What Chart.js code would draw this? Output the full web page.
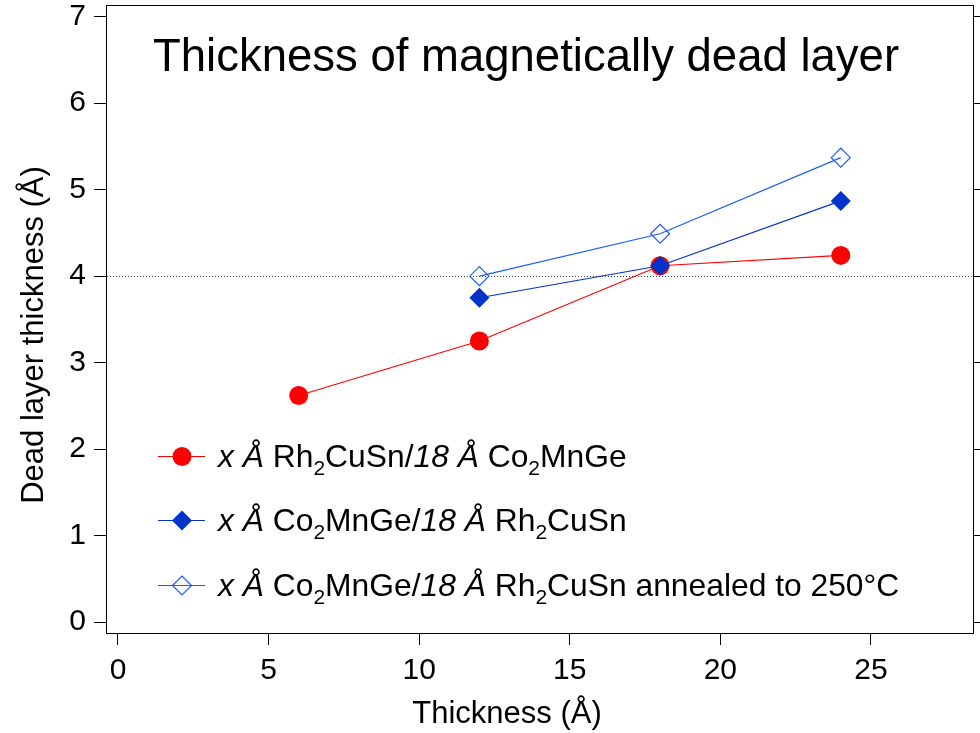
<!DOCTYPE html>
<html>
<head>
<meta charset="utf-8">
<script src="https://cdn.jsdelivr.net/npm/chart.js@4.4.1/dist/chart.umd.min.js"></script>
<style>
  html, body { margin: 0; padding: 0; background: #fff; }
</style>
</head>
<body>
<canvas id="deadLayerChart" width="980" height="733"></canvas>
<script>
const FONT = '"Liberation Sans", Arial, Helvetica, sans-serif';

// Values
const rhCuSnThickness = [6, 12, 18, 24];
const rhCuSnDeadLayer = [2.62, 3.25, 4.12, 4.24];
const coMnGeThickness = [12, 18, 24];
const coMnGeDeadLayer = [3.75, 4.12, 4.87];
const annealedThickness = [12, 18, 24];
const annealedDeadLayer = [4.0, 4.49, 5.37];
const referenceLevel = 4;

const xTicks = [0, 5, 10, 15, 20, 25];
const yTicks = [0, 1, 2, 3, 4, 5, 6, 7];

const chartTitle = 'Thickness of magnetically dead layer';
const xTitle = 'Thickness (Å)';
const yTitle = 'Dead layer thickness (Å)';

// Legend labels as [text, style]: i = italic, n = normal, s = subscript
const legendRh = [['x Å', 'i'], [' Rh', 'n'], ['2', 's'], ['CuSn/', 'n'], ['18 Å', 'i'], [' Co', 'n'], ['2', 's'], ['MnGe', 'n']];
const legendCo = [['x Å', 'i'], [' Co', 'n'], ['2', 's'], ['MnGe/', 'n'], ['18 Å', 'i'], [' Rh', 'n'], ['2', 's'], ['CuSn', 'n']];
const legendAnnealed = [['x Å', 'i'], [' Co', 'n'], ['2', 's'], ['MnGe/', 'n'], ['18 Å', 'i'], [' Rh', 'n'], ['2', 's'], ['CuSn annealed to 250°C', 'n']];

const RED = '#ff0000';
const DARK_BLUE = '#0033cc';
const LIGHT_BLUE = '#1a5cff';

function toPoints(xs, ys) {
    return xs.map((x, i) => ({ x: x, y: ys[i] }));
}

function setTicks(values) {
    return scale => { scale.ticks = values.map(v => ({ value: v })); };
}

// Frame, reference line, titles and the rich-text legend
const decorPlugin = {
    id: 'decor',
    beforeDatasetsDraw(chart) {
        const { ctx, chartArea } = chart;
        const y = Math.round(chart.scales.y.getPixelForValue(referenceLevel)) + 0.5;
        ctx.save();
        ctx.strokeStyle = '#444';
        ctx.lineWidth = 1;
        ctx.setLineDash([1, 2]);
        ctx.beginPath();
        ctx.moveTo(chartArea.left, y);
        ctx.lineTo(chartArea.right, y);
        ctx.stroke();
        ctx.restore();
    },
    afterDraw(chart) {
        const { ctx, chartArea } = chart;
        ctx.save();
        // plot frame
        ctx.strokeStyle = '#000';
        ctx.lineWidth = 1;
        ctx.strokeRect(chartArea.left - 0.5, chartArea.top - 0.5,
            chartArea.right - chartArea.left + 1, chartArea.bottom - chartArea.top + 1);

        ctx.fillStyle = '#000';
        // title inside the plot
        ctx.font = '45.5px ' + FONT;
        ctx.textAlign = 'center';
        ctx.textBaseline = 'alphabetic';
        ctx.fillText(chartTitle, 526, 71);

        // axis titles
        ctx.font = '31px ' + FONT;
        ctx.fillText(xTitle, 507, 723);
        ctx.save();
        ctx.translate(43, 335);
        ctx.rotate(-Math.PI / 2);
        ctx.fillText(yTitle, 0, 0);
        ctx.restore();

        // legend
        const rows = [legendRh, legendCo, legendAnnealed];
        const rowY = [456, 520, 585];
        chart.data.datasets.forEach((ds, i) => {
            const y = rowY[i];
            ctx.save();
            ctx.strokeStyle = ds.borderColor;
            ctx.lineWidth = ds.borderWidth;
            ctx.beginPath();
            ctx.moveTo(158, y + 0.5);
            ctx.lineTo(205, y + 0.5);
            ctx.stroke();
            ctx.fillStyle = ds.pointBackgroundColor;
            ctx.strokeStyle = ds.pointBorderColor;
            ctx.lineWidth = ds.pointBorderWidth;
            Chart.helpers.drawPoint(ctx, {
                pointStyle: ds.pointStyle,
                radius: ds.pointRadius,
                rotation: 0,
                borderWidth: ds.pointBorderWidth
            }, 182, y + 0.5);
            ctx.restore();

            let x = 218;
            ctx.textAlign = 'left';
            ctx.textBaseline = 'alphabetic';
            ctx.fillStyle = '#000';
            rows[i].forEach(([text, style]) => {
                let dy = 0;
                if (style === 'i') ctx.font = 'italic 31.8px ' + FONT;
                else if (style === 's') { ctx.font = '21px ' + FONT; dy = 8; }
                else ctx.font = '31.8px ' + FONT;
                ctx.fillText(text, x, y + 11 + dy);
                x += ctx.measureText(text).width;
            });
        });
        ctx.restore();
    }
};

const tickFont = { family: FONT, size: 30 };

new Chart(document.getElementById('deadLayerChart'), {
    type: 'scatter',
    data: {
        datasets: [{
            label: 'x Å Rh2CuSn/18 Å Co2MnGe',
            data: toPoints(rhCuSnThickness, rhCuSnDeadLayer),
            showLine: true,
            borderColor: RED,
            borderWidth: 1.2,
            pointStyle: 'circle',
            pointRadius: 9.5,
            pointBackgroundColor: RED,
            pointBorderColor: RED,
            pointBorderWidth: 0,
            order: 3
        }, {
            label: 'x Å Co2MnGe/18 Å Rh2CuSn',
            data: toPoints(coMnGeThickness, coMnGeDeadLayer),
            showLine: true,
            borderColor: DARK_BLUE,
            borderWidth: 1.2,
            pointStyle: 'rectRot',
            pointRadius: 10,
            pointBackgroundColor: DARK_BLUE,
            pointBorderColor: DARK_BLUE,
            pointBorderWidth: 0,
            order: 1
        }, {
            label: 'x Å Co2MnGe/18 Å Rh2CuSn annealed to 250°C',
            data: toPoints(annealedThickness, annealedDeadLayer),
            showLine: true,
            borderColor: LIGHT_BLUE,
            borderWidth: 1.2,
            pointStyle: 'rectRot',
            pointRadius: 9.5,
            pointBackgroundColor: 'rgba(0,0,0,0)',
            pointBorderColor: LIGHT_BLUE,
            pointBorderWidth: 1.2,
            order: 2
        }]
    },
    options: {
        responsive: false,
        animation: false,
        devicePixelRatio: 1,
        layout: { autoPadding: false, padding: { top: 6, left: 0, right: 0, bottom: 0 } },
        plugins: {
            legend: { display: false },
            tooltip: { enabled: false }
        },
        scales: {
            x: {
                type: 'linear',
                position: 'bottom',
                min: -0.365,
                max: 28.39,
                afterBuildTicks: setTicks(xTicks),
                afterFit: s => { s.height = 100; s.paddingLeft = 0; s.paddingRight = 0; },
                border: { display: false },
                grid: { drawOnChartArea: false, drawTicks: true, tickLength: 12, tickColor: '#000', tickWidth: 1 },
                ticks: { font: tickFont, color: '#000', padding: 8, maxRotation: 0, autoSkip: false }
            },
            y: {
                type: 'linear',
                position: 'left',
                min: -0.127,
                max: 7.124,
                afterBuildTicks: setTicks(yTicks),
                afterFit: s => { s.width = 107; s.paddingTop = 0; s.paddingBottom = 0; },
                border: { display: false },
                grid: { drawOnChartArea: false, drawTicks: true, tickLength: 13, tickColor: '#000', tickWidth: 1 },
                ticks: { font: tickFont, color: '#000', padding: 8, autoSkip: false }
            },
            y2: {
                type: 'linear',
                position: 'right',
                min: -0.127,
                max: 7.124,
                afterBuildTicks: setTicks(yTicks),
                afterFit: s => { s.width = 7; s.paddingTop = 0; s.paddingBottom = 0; },
                border: { display: false },
                grid: { drawOnChartArea: false, drawTicks: true, tickLength: 7, tickColor: '#000', tickWidth: 1 },
                ticks: { display: false }
            }
        }
    },
    plugins: [decorPlugin]
});
</script>
</body>
</html>
